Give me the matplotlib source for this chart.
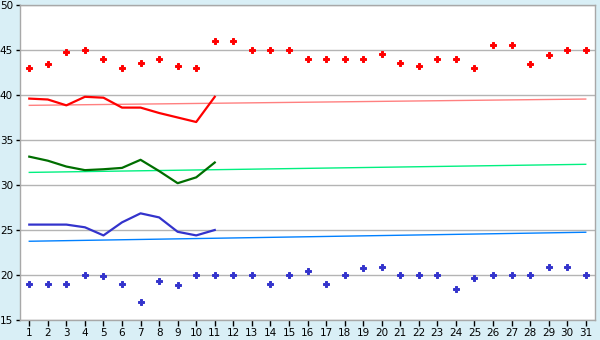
import matplotlib
matplotlib.use("Agg")
import matplotlib.pyplot as plt
import numpy as np

days = list(range(1, 32))
max_pts = [43, 43.4, 44.8, 45, 44, 43, 43.6, 44, 43.2, 43, 46, 46, 45, 45, 45,
           44, 44, 44, 44, 44.6, 43.6, 43.2, 44, 44, 43, 45.6, 45.6, 43.4, 44.4, 45, 45]
min_pts = [19, 19, 19, 20, 19.9, 19, 17, 19.3, 18.9, 20, 20, 20, 20, 19, 20,
           20.4, 19, 20, 20.8, 20.9, 20, 20, 20, 18.5, 19.7, 20, 20, 20, 20.9, 20.9, 20]
line_days = list(range(1, 12))
red_line = [39.6, 39.5, 38.85, 39.8, 39.7, 38.6, 38.6, 38.0, 37.5, 37.0, 39.8]
green_line = [33.15, 32.7, 32.05, 31.65, 31.75, 31.9, 32.8, 31.55, 30.2, 30.85, 32.5]
blue_line = [25.6, 25.6, 25.6, 25.3, 24.4, 25.85, 26.85, 26.4, 24.8, 24.4, 25.0]
red_trend = [38.85, 39.55]
green_trend = [31.4, 32.3]
blue_trend = [23.75, 24.75]
trend_days = [1, 31]
yticks = [15, 20, 25, 30, 35, 40, 45, 50]

bg = "#d9eff6"
fig = plt.figure(figsize=(6, 3.4), dpi=100, facecolor=bg)
ax = fig.add_axes([20/600, 20/340, 575/600, 315/340])
ax.set_facecolor("white")

ax.set_xlim(0.5, 31.5)
ax.set_ylim(15, 50)
ax.set_yticks(yticks)
ax.set_xticks(days)
ax.grid(axis="y", color="#b4b4b4", linewidth=1)
ax.set_axisbelow(True)

ax.plot(trend_days, red_trend, color="#ff8080", lw=1)
ax.plot(trend_days, green_trend, color="#00f080", lw=1)
ax.plot(trend_days, blue_trend, color="#0080ff", lw=1)

ax.plot(line_days, red_line, color="#ff0000", lw=1.6)
ax.plot(line_days, green_line, color="#006e00", lw=1.6)
ax.plot(line_days, blue_line, color="#3333cc", lw=1.6)

ax.plot(days, max_pts, ls="none", marker="P", ms=4.2, color="#ff0000", mec="#ff0000", mew=0.7)
ax.plot(days, min_pts, ls="none", marker="P", ms=4.2, color="#3333cc", mec="#3333cc", mew=0.7)

for s in ax.spines.values():
    s.set_color("#a8a8a8")
    s.set_linewidth(1)
ax.tick_params(axis="both", labelsize=7.5, colors="black", length=3, width=1, pad=2)
ax.tick_params(axis="x", length=4)

fig.savefig("out.png", dpi=100, facecolor=bg)
